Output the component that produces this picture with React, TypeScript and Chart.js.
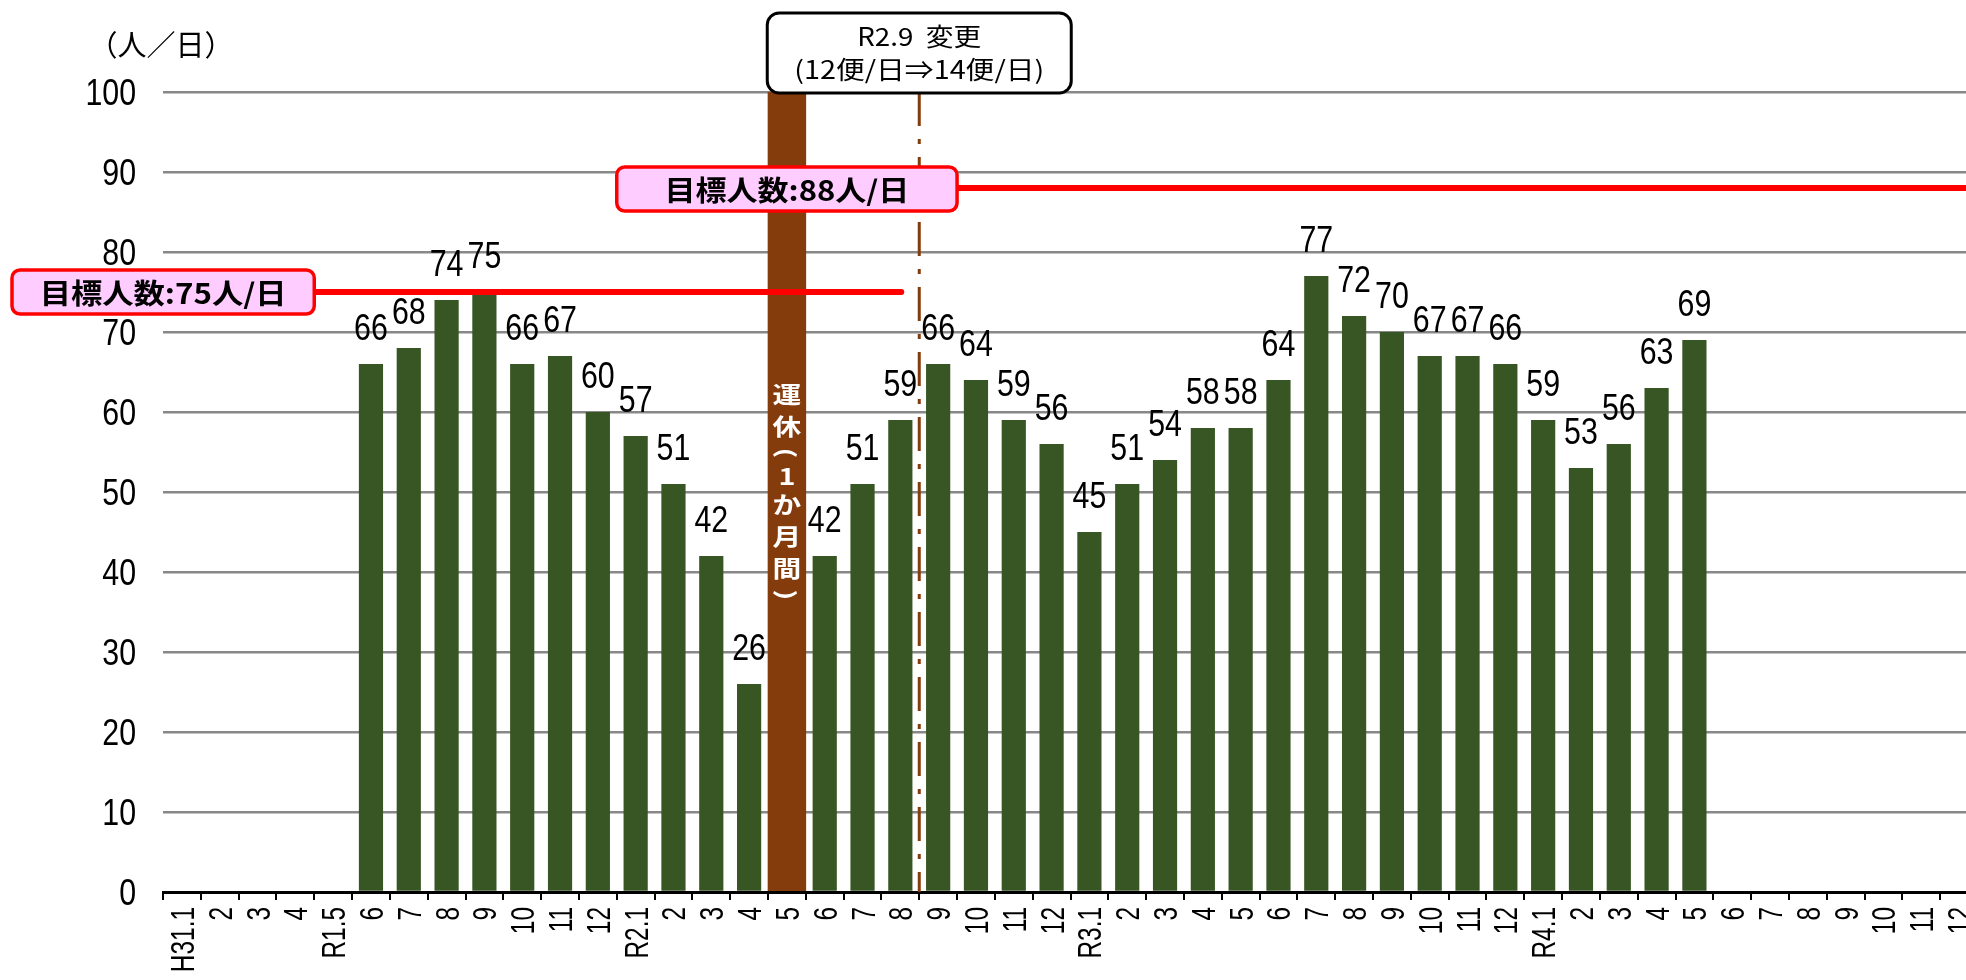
import { useEffect, useRef } from "react";
import { Chart, registerables } from "chart.js";

Chart.register(...registerables);

// ---- data ----
const categories = [
  "H31.1", "2", "3", "4", "R1.5", "6", "7", "8", "9", "10", "11", "12",
  "R2.1", "2", "3", "4", "5", "6", "7", "8", "9", "10", "11", "12",
  "R3.1", "2", "3", "4", "5", "6", "7", "8", "9", "10", "11", "12",
  "R4.1", "2", "3", "4", "5", "6", "7", "8", "9", "10", "11", "12",
];
const passengers: (number | null)[] = [
  null, null, null, null, null, 66, 68, 74, 75, 66, 67, 60,
  57, 51, 42, 26, null, 42, 51, 59, 66, 64, 59, 56,
  45, 51, 54, 58, 58, 64, 77, 72, 70, 67, 67, 66,
  59, 53, 56, 63, 69, null, null, null, null, null, null, null,
];
const suspended: (number | null)[] = [
  null, null, null, null, null, null, null, null, null, null, null, null,
  null, null, null, null, 100, null, null, null, null, null, null, null,
  null, null, null, null, null, null, null, null, null, null, null, null,
  null, null, null, null, null, null, null, null, null, null, null, null,
];
const yMin = 0;
const yMax = 100;
const yStep = 10;
const targetBefore = 75;
const targetAfter = 88;
const targetBeforeLabel = "目標人数:75人/日";
const targetAfterLabel = "目標人数:88人/日";
const changeIndex = 20; // R2.9
const changeLines = ["R2.9  変更", "(12便/日⇒14便/日)"];
const suspendedChars = ["運", "休", "(", "1", "か", "月", "間", ")"];
const unitLabel = "（人／日）";

// ---- styles ----
const GREEN = "#375623";
const BROWN = "#843C0C";
const RED = "#FF0000";
const PINK = "#FFCCFF";
const GRID = "#888888";
const NUM_FONT = '"Liberation Sans", Arial, sans-serif';
const JP_FONT = '"Noto Sans CJK JP", "Noto Sans", sans-serif';

function fitText(ctx: CanvasRenderingContext2D, text: string, cx: number, cy: number, font: string, width: number) {
  ctx.save();
  ctx.font = font;
  const m = ctx.measureText(text).width;
  ctx.translate(cx, cy);
  ctx.scale(width / m, 1);
  ctx.textAlign = "center";
  ctx.textBaseline = "middle";
  ctx.fillText(text, 0, 0);
  ctx.restore();
}

// narrow number text: anchor x, baseline y, horizontal squeeze
function narrowText(
  ctx: CanvasRenderingContext2D,
  text: string,
  x: number,
  y: number,
  size: number,
  squeeze: number,
  align: CanvasTextAlign
) {
  ctx.save();
  ctx.font = `${size}px ${NUM_FONT}`;
  ctx.translate(x, y);
  ctx.scale(squeeze, 1);
  ctx.textAlign = align;
  ctx.textBaseline = "alphabetic";
  ctx.fillText(text, 0, 0);
  ctx.restore();
}

function pinkBox(ctx: CanvasRenderingContext2D, left: number, right: number, cy: number, text: string, textW: number) {
  const h = 44;
  ctx.save();
  ctx.beginPath();
  ctx.roundRect(left, cy - h / 2, right - left, h, 8);
  ctx.fillStyle = PINK;
  ctx.fill();
  ctx.lineWidth = 3.5;
  ctx.strokeStyle = RED;
  ctx.stroke();
  ctx.fillStyle = "#000";
  fitText(ctx, text, (left + right) / 2, cy + 1, `bold 28px ${JP_FONT}`, textW);
  ctx.restore();
}

const annotations = {
  id: "annotations",
  afterDatasetsDraw(chart: any) {
    const { ctx, chartArea, scales } = chart;
    const x = scales.x;
    const y = scales.y;
    const w = x.getPixelForValue(1) - x.getPixelForValue(0);
    const bnd = (i: number) => x.getPixelForValue(i) - w / 2;

    ctx.save();
    ctx.fillStyle = "#000";
    // y tick labels
    for (let v = yMin; v <= yMax; v += yStep) {
      narrowText(ctx, String(v), chartArea.left - 27, y.getPixelForValue(v) + 13, 37, 0.82, "right");
    }
    // x tick labels (rotated)
    categories.forEach((lab, i) => {
      const px = x.getPixelForValue(i);
      ctx.save();
      ctx.translate(px, chartArea.bottom + 15);
      ctx.rotate(-Math.PI / 2);
      ctx.scale(0.74, 1);
      ctx.font = `33px ${NUM_FONT}`;
      ctx.textAlign = "right";
      ctx.textBaseline = "alphabetic";
      ctx.fillText(lab, 0, 12);
      ctx.restore();
    });
    // value labels
    const meta = chart.getDatasetMeta(1);
    meta.data.forEach((el: any, i: number) => {
      const v = passengers[i];
      if (v == null) return;
      narrowText(ctx, String(v), el.x, el.y - 24, 37, 0.82, "center");
    });
    ctx.restore();

    // vertical text on suspended bar
    const sIdx = suspended.findIndex((v) => v != null);
    const sx = x.getPixelForValue(sIdx);
    const adv = (c: string) => (c === "(" || c === ")" ? 22 : /[0-9]/.test(c) ? 24 : 32);
    const total = suspendedChars.reduce((a, c) => a + adv(c), 0);
    const midY = (y.getPixelForValue(0) + y.getPixelForValue(100)) / 2;
    let cy = midY - total / 2;
    ctx.save();
    ctx.fillStyle = "#fff";
    ctx.font = `bold 25px ${JP_FONT}`;
    ctx.textAlign = "center";
    ctx.textBaseline = "middle";
    for (const c of suspendedChars) {
      const a = adv(c);
      const yy = cy + a / 2;
      ctx.save();
      ctx.translate(sx, yy);
      if (c === "(" || c === ")") ctx.rotate(Math.PI / 2);
      ctx.scale(1.15, 0.92);
      ctx.fillText(c, 0, 0);
      ctx.restore();
      cy += a;
    }
    ctx.restore();

    // dash-dot change line
    const cxLine = bnd(changeIndex);
    ctx.save();
    ctx.strokeStyle = BROWN;
    ctx.lineWidth = 3;
    ctx.setLineDash([34, 13, 5, 13]);
    ctx.beginPath();
    ctx.moveTo(cxLine, chartArea.top);
    ctx.lineTo(cxLine, chartArea.bottom);
    ctx.stroke();
    ctx.restore();

    // target lines
    const y75 = y.getPixelForValue(targetBefore);
    const y88 = y.getPixelForValue(targetAfter);
    const box75L = chartArea.left - 151;
    const box75R = bnd(4);
    const box88L = bnd(12);
    const box88R = bnd(21);
    ctx.save();
    ctx.strokeStyle = RED;
    ctx.lineWidth = 6;
    ctx.lineCap = "round";
    ctx.beginPath();
    ctx.moveTo(box75R, y75);
    ctx.lineTo(cxLine - 18, y75);
    ctx.moveTo(box88R, y88);
    ctx.lineTo(chart.width + 10, y88);
    ctx.stroke();
    ctx.restore();

    pinkBox(ctx, box75L, box75R, y75, targetBeforeLabel, 247);
    pinkBox(ctx, box88L, box88R, y88 + 1, targetAfterLabel, 245);

    // callout
    ctx.save();
    const cw = 304;
    const top = 13;
    const bottom = chartArea.top + 1;
    ctx.beginPath();
    ctx.roundRect(cxLine - cw / 2, top, cw, bottom - top, 12);
    ctx.fillStyle = "#fff";
    ctx.fill();
    ctx.lineWidth = 3;
    ctx.strokeStyle = "#000";
    ctx.stroke();
    ctx.fillStyle = "#000";
    fitText(ctx, changeLines[0], cxLine, 36, `25px ${JP_FONT}`, 124);
    fitText(ctx, changeLines[1], cxLine, 69, `25px ${JP_FONT}`, 250);
    ctx.restore();

    // unit label
    ctx.save();
    ctx.fillStyle = "#000";
    ctx.font = `29px ${JP_FONT}`;
    ctx.textAlign = "center";
    ctx.textBaseline = "middle";
    ctx.fillText(unitLabel, 161, 45);
    ctx.restore();
  },
};

export default function App() {
  const ref = useRef<HTMLCanvasElement>(null);
  useEffect(() => {
    if (!ref.current) return;
    const chart = new Chart(ref.current, {
      type: "bar",
      data: {
        labels: categories,
        datasets: [
          {
            data: suspended as any,
            backgroundColor: BROWN,
            barPercentage: 1,
            categoryPercentage: 1,
            grouped: false,
          } as any,
          {
            data: passengers as any,
            backgroundColor: GREEN,
            barPercentage: 0.64,
            categoryPercentage: 1,
            grouped: false,
          } as any,
        ],
      },
      options: {
        responsive: false,
        animation: false,
        layout: { padding: { top: 92, right: 12, left: 0, bottom: 0 } },
        plugins: { legend: { display: false }, tooltip: { enabled: false } },
        scales: {
          x: {
            offset: true,
            grid: {
              display: true,
              drawOnChartArea: false,
              drawTicks: true,
              tickLength: 8,
              color: "#000",
              lineWidth: 2,
              offset: true,
            },
            border: { display: true, color: "#000", width: 3 },
            ticks: { display: false, autoSkip: false },
            afterFit: (s: any) => {
              s.height = 88;
            },
          },
          y: {
            min: yMin,
            max: yMax,
            ticks: { display: false, stepSize: yStep },
            grid: {
              color: (c: any) => (c.tick && c.tick.value === 0 ? "rgba(0,0,0,0)" : GRID),
              lineWidth: 2.5,
              drawTicks: false,
            },
            border: { display: false },
            afterFit: (s: any) => {
              s.width = 163;
            },
          },
        },
      } as any,
      plugins: [annotations],
    });
    return () => chart.destroy();
  }, []);

  return (
    <div
      style={{
        position: "fixed",
        left: 0,
        top: 0,
        width: 1966,
        height: 980,
        overflow: "hidden",
        background: "#fff",
      }}
    >
      <canvas ref={ref} width={1990} height={980} style={{ width: 1990, height: 980, display: "block" }} />
    </div>
  );
}
